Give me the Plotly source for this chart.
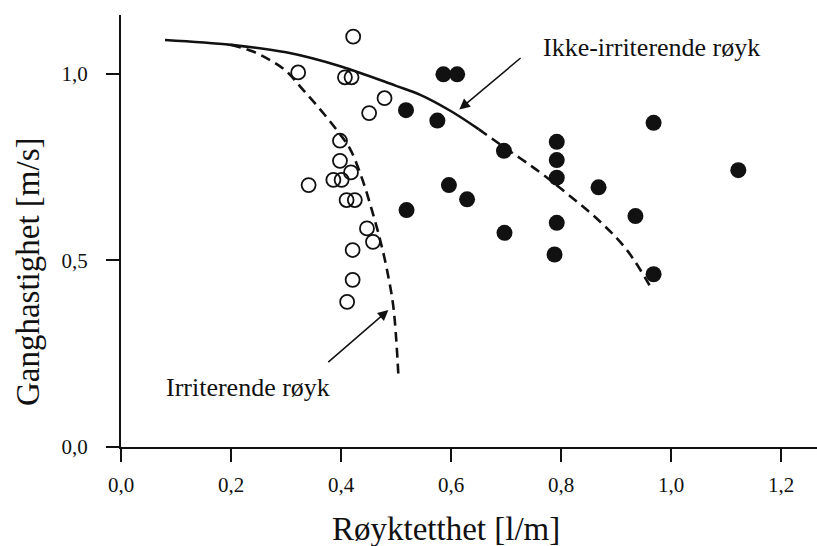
import plotly.graph_objects as go

# Irriterende røyk (open circles)
irr_x = [0.422, 0.322, 0.407, 0.419, 0.479, 0.451, 0.398, 0.398, 0.418, 0.341,
         0.386, 0.401, 0.410, 0.425, 0.447, 0.458, 0.421, 0.421, 0.411]
irr_y = [1.100, 1.004, 0.991, 0.991, 0.935, 0.895, 0.821, 0.767, 0.736, 0.702,
         0.716, 0.716, 0.662, 0.662, 0.586, 0.550, 0.528, 0.448, 0.389]

# Ikke-irriterende røyk (filled circles)
non_x = [0.586, 0.611, 0.518, 0.575, 0.696, 0.596, 0.629, 0.519, 0.697, 0.792,
         0.792, 0.792, 0.868, 0.935, 0.792, 0.788, 0.968, 0.968, 1.122]
non_y = [0.999, 0.999, 0.903, 0.875, 0.794, 0.702, 0.664, 0.635, 0.574, 0.818,
         0.769, 0.722, 0.696, 0.619, 0.601, 0.516, 0.463, 0.869, 0.742]

# Fitted trend curves
non_solid_x = [0.08, 0.20, 0.30, 0.40, 0.50, 0.544, 0.60, 0.65]
non_solid_y = [1.091, 1.078, 1.058, 1.020, 0.968, 0.944, 0.900, 0.852]
non_dash_x = [0.65, 0.70, 0.76, 0.80, 0.87, 0.92, 0.966]
non_dash_y = [0.852, 0.800, 0.738, 0.692, 0.605, 0.527, 0.420]
irr_curve_x = [0.200, 0.240, 0.271, 0.300, 0.331, 0.362, 0.392, 0.416, 0.438,
               0.456, 0.471, 0.483, 0.495, 0.504]
irr_curve_y = [1.078, 1.060, 1.037, 1.008, 0.957, 0.905, 0.850, 0.800, 0.720,
               0.635, 0.555, 0.478, 0.376, 0.197]

x_ticks = [0.0, 0.2, 0.4, 0.6, 0.8, 1.0, 1.2]
y_ticks = [0.0, 0.5, 1.0]

FONT = "Liberation Serif"
INK = "#111111"

fig = go.Figure()

fig.add_trace(go.Scatter(x=non_solid_x, y=non_solid_y, mode="lines",
                         line=dict(color=INK, width=2.6, shape="spline"),
                         showlegend=False))
fig.add_trace(go.Scatter(x=non_dash_x, y=non_dash_y, mode="lines",
                         line=dict(color=INK, width=2.6, shape="spline",
                                   dash="10px,6px"),
                         showlegend=False))
fig.add_trace(go.Scatter(x=irr_curve_x, y=irr_curve_y, mode="lines",
                         line=dict(color=INK, width=2.6, shape="spline",
                                   dash="10px,6px"),
                         showlegend=False))

fig.add_trace(go.Scatter(x=irr_x, y=irr_y, mode="markers",
                         marker=dict(symbol="circle-open", size=14,
                                     color=INK, line=dict(width=1.8, color=INK)),
                         showlegend=False))
fig.add_trace(go.Scatter(x=non_x, y=non_y, mode="markers",
                         marker=dict(symbol="circle", size=16, color=INK,
                                     line=dict(width=0)),
                         showlegend=False))

# Labels with arrows
fig.add_annotation(x=0.615, y=0.905, ax=0.729, ay=1.046, xref="x", yref="y",
                   axref="x", ayref="y", text="", showarrow=True,
                   arrowhead=2, arrowsize=1.4, arrowwidth=1.5, arrowcolor=INK)
fig.add_annotation(x=0.486, y=0.367, ax=0.374, ay=0.224, xref="x", yref="y",
                   axref="x", ayref="y", text="", showarrow=True,
                   arrowhead=2, arrowsize=1.4, arrowwidth=1.5, arrowcolor=INK)
fig.add_annotation(x=0.9645, y=1.07, xref="x", yref="y", text="Ikke-irriterende røyk",
                   showarrow=False, xanchor="center", yanchor="middle",
                   font=dict(family=FONT, size=26, color=INK))
fig.add_annotation(x=0.231, y=0.160, xref="x", yref="y", text="Irriterende røyk",
                   showarrow=False, xanchor="center", yanchor="middle",
                   font=dict(family=FONT, size=26, color=INK))

# Axis titles
fig.add_annotation(x=0.467, y=-0.190, xref="paper", yref="paper",
                   text="Røyktetthet [l/m]", showarrow=False,
                   xanchor="center", yanchor="middle",
                   font=dict(family=FONT, size=33, color=INK))
fig.add_annotation(x=-0.1336, y=0.405, xref="paper", yref="paper",
                   text="Ganghastighet [m/s]", showarrow=False, textangle=-90,
                   xanchor="center", yanchor="middle",
                   font=dict(family=FONT, size=33, color=INK))

axis_common = dict(showgrid=False, zeroline=False, showline=True,
                   linecolor=INK, linewidth=2, ticks="outside", ticklen=13,
                   tickwidth=2, tickcolor=INK, tickformat=".1f",
                   tickfont=dict(family=FONT, size=21, color=INK))

fig.update_xaxes(range=[0, 1.265], tickvals=x_ticks, ticklabelstandoff=5,
                 **axis_common)
fig.update_yaxes(range=[0, 1.158], tickvals=y_ticks, ticklabelstandoff=14,
                 **axis_common)

fig.update_layout(width=817, height=546, autosize=False,
                  margin=dict(l=121, r=0, t=15, b=99),
                  plot_bgcolor="white", paper_bgcolor="white",
                  separators=", ", showlegend=False)

fig.write_html("out.html")
